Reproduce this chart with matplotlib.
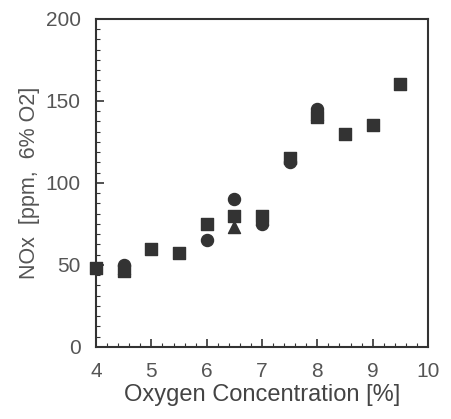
import matplotlib.pyplot as plt
from matplotlib.ticker import MultipleLocator

# dados
o2_quadrado = [4.0, 4.5, 5.0, 5.5, 6.0, 6.5, 7.0, 7.5, 8.0, 8.5, 9.0, 9.5]
nox_quadrado = [48, 46, 60, 57, 75, 80, 80, 115, 140, 130, 135, 160]
o2_circulo = [4.5, 6.0, 6.5, 7.0, 7.5, 8.0]
nox_circulo = [50, 65, 90, 75, 113, 145]
o2_triangulo = [4.5, 6.5, 7.0, 8.0]
nox_triangulo = [48, 73, 78, 142]

plt.rcParams['font.family'] = ['Liberation Sans', 'DejaVu Sans']

fig = plt.figure(figsize=(4.51, 4.19), dpi=100)
ax = fig.add_axes([0.213, 0.172, 0.736, 0.783])

cor = '#333333'
ax.scatter(o2_quadrado, nox_quadrado, marker='s', s=75, color=cor, zorder=3, clip_on=False)
ax.scatter(o2_circulo, nox_circulo, marker='o', s=75, color=cor, zorder=3, clip_on=False)
ax.scatter(o2_triangulo, nox_triangulo, marker='^', s=75, color=cor, zorder=3, clip_on=False)

ax.set_xlim(4, 10)
ax.set_ylim(0, 200)
ax.xaxis.set_major_locator(MultipleLocator(1))
ax.xaxis.set_minor_locator(MultipleLocator(0.2))
ax.yaxis.set_major_locator(MultipleLocator(50))
ax.yaxis.set_minor_locator(MultipleLocator(6.25))
ax.tick_params(which='both', direction='in', top=False, right=False,
               colors=cor, labelcolor='#555555', labelsize=15, pad=11)
ax.tick_params(which='major', length=6, width=1.2)
ax.tick_params(which='minor', length=3, width=0.8)

for s in ax.spines.values():
    s.set_color(cor)
    s.set_linewidth(1.5)

ax.set_xlabel('Oxygen Concentration [%]', fontsize=17, color='#444444', labelpad=2)
ax.set_ylabel('NOx  [ppm,  6% O2]', fontsize=15.5, color='#555555', labelpad=4)

fig.savefig('out.png', dpi=100)
